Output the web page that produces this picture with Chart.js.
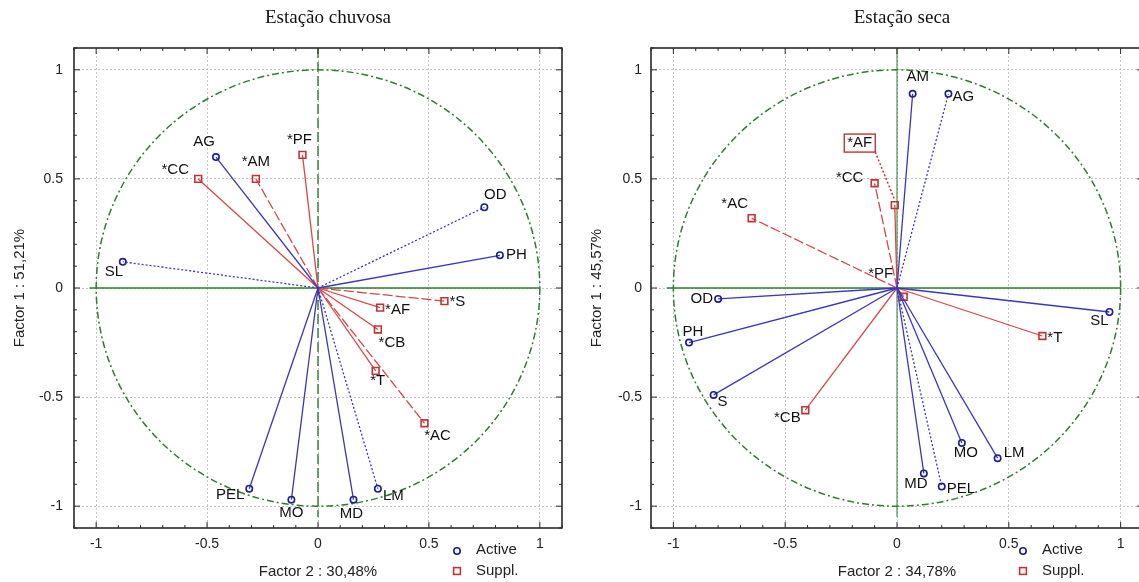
<!DOCTYPE html>
<html><head><meta charset="utf-8">
<script src="https://cdn.jsdelivr.net/npm/chart.js@4.4.1/dist/chart.umd.min.js"></script>
<style>
html,body{margin:0;padding:0;background:#fff;overflow:hidden;width:1139px;height:582px;position:relative;}
#c1{position:absolute;left:0;top:0;}
#c2{position:absolute;left:570px;top:0;}
</style></head><body>
<canvas id="c1" width="570" height="582"></canvas>
<canvas id="c2" width="600" height="582"></canvas>
<script>
// ---------- DATA : Estação chuvosa ----------
const rainActiveLabels = ['AG','SL','OD','PH','PEL','MO','MD','LM'];
const rainActiveF2 = [-0.46,-0.88,0.75,0.82,-0.31,-0.12,0.16,0.27];
const rainActiveF1 = [0.60,0.12,0.37,0.15,-0.92,-0.97,-0.97,-0.92];
const rainSupplLabels = ['*CC','*AM','*PF','*S','*AF','*CB','*T','*AC'];
const rainSupplF2 = [-0.54,-0.28,-0.07,0.57,0.28,0.27,0.26,0.48];
const rainSupplF1 = [0.50,0.50,0.61,-0.06,-0.09,-0.19,-0.38,-0.62];
// ---------- DATA : Estação seca ----------
const dryActiveLabels = ['AM','AG','OD','PH','S','SL','MO','LM','MD','PEL'];
const dryActiveF2 = [0.07,0.23,-0.80,-0.93,-0.82,0.95,0.29,0.45,0.12,0.20];
const dryActiveF1 = [0.89,0.89,-0.05,-0.25,-0.49,-0.11,-0.71,-0.78,-0.85,-0.91];
const drySupplLabels = ['*AF','*CC','*AC','*PF','*CB','*T'];
const drySupplF2 = [-0.01,-0.10,-0.65,0.03,-0.41,0.65];
const drySupplF1 = [0.38,0.48,0.32,-0.04,-0.56,-0.22];
// ---------- axis ticks ----------
const axisTicks = [-1,-0.5,0,0.5,1];
const tickLabels = ['-1','-0.5','0','0.5','1'];

// ---------- styles ----------
const DOT=[2,2], DASH=[10,3], SOLID=[];
const BLUE_LINE='#3838bc', BLUE_PT='#1c1c96', RED_LINE='#d64848', RED_PT='#c23434';
const GREEN='#2f7d2f';
const SANS='"Liberation Sans", Arial, sans-serif';
const SERIF='"Liberation Serif", "Times New Roman", serif';

const rainDash = {AG:SOLID,SL:DOT,OD:DOT,PH:SOLID,PEL:SOLID,MO:SOLID,MD:SOLID,LM:DOT,
  '*CC':SOLID,'*AM':DASH,'*PF':SOLID,'*S':DASH,'*AF':SOLID,'*CB':SOLID,'*T':SOLID,'*AC':DASH};
const dryDash = {AM:SOLID,AG:DOT,OD:SOLID,PH:SOLID,S:SOLID,SL:SOLID,MO:SOLID,LM:SOLID,MD:SOLID,PEL:DOT,
  '*AF':SOLID,'*CC':DASH,'*AC':DASH,'*PF':SOLID,'*CB':SOLID,'*T':SOLID};
// label offsets [dx, dy, align, boxed]
const rainLabelPos = {AG:[-12,-15,'center'],SL:[-9,10,'center'],OD:[11,-12,'center'],PH:[6,0,'left'],
  PEL:[-19,6,'center'],MO:[0,13,'center'],MD:[-2,14,'center'],LM:[5,7,'left'],
  '*CC':[-23,-9,'center'],'*AM':[0,-17,'center'],'*PF':[-3,-15,'center'],'*S':[5,1,'left'],
  '*AF':[5,2,'left'],'*CB':[14,13,'center'],'*T':[2,10,'center'],'*AC':[13,13,'center']};
const dryLabelPos = {AM:[5,-17,'center'],AG:[4,3,'left'],OD:[-5,0,'right'],PH:[4,-11,'center'],
  S:[9,7,'center'],SL:[-10,9,'center'],MO:[4,10,'center'],LM:[6,-5,'left'],MD:[-8,10,'center'],PEL:[5,2,'left'],
  '*AF':[-35,-62,'center',true],'*CC':[-25,-5,'center'],'*AC':[-17,-14,'center'],'*PF':[-23,-23,'center'],
  '*CB':[-18,8,'center'],'*T':[5,2,'left']};

function vec(label, f2, f1, active, dash){
  return {
    label, kind: active ? 'active' : 'suppl',
    data:[{x:0,y:0},{x:f2,y:f1}],
    showLine:true,
    borderColor: active ? BLUE_LINE : RED_LINE,
    borderWidth: 1.3,
    borderDash: dash || [],
    pointRadius:[0, active ? 3.2 : 4.8],
    pointStyle: active ? 'circle' : 'rect',
    pointBorderColor: active ? BLUE_PT : RED_PT,
    pointBackgroundColor:'rgba(0,0,0,0)',
    pointBorderWidth:1.6,
    pointHoverRadius:0
  };
}

function buildChart(id, spec){
  const datasets=[];
  spec.activeLabels.forEach((l,i)=>datasets.push(vec(l,spec.activeF2[i],spec.activeF1[i],true,spec.dash[l])));
  spec.supplLabels.forEach((l,i)=>datasets.push(vec(l,spec.supplF2[i],spec.supplF1[i],false,spec.dash[l])));

  const decor = {
    id:'decor_'+id,
    beforeDatasetsDraw(chart){
      const {ctx, scales:{x,y}} = chart;
      const cx=x.getPixelForValue(0), cy=y.getPixelForValue(0);
      const rx=x.getPixelForValue(1)-cx, ry=cy-y.getPixelForValue(1);
      ctx.save();
      // unit circle
      ctx.strokeStyle=GREEN; ctx.lineWidth=1.5; ctx.setLineDash([7,3,2,3]);
      ctx.beginPath(); ctx.ellipse(cx,cy,rx,ry,0,0,Math.PI*2); ctx.stroke();
      // zero lines
      ctx.setLineDash([]); ctx.lineWidth=1.4;
      ctx.beginPath(); ctx.moveTo(x.getPixelForValue(-1.03),cy); ctx.lineTo(x.getPixelForValue(1),cy); ctx.stroke();
      ctx.setLineDash(spec.vDash); ctx.lineWidth=spec.vDash.length?1.4:1;
      ctx.beginPath(); ctx.moveTo(cx,chart.chartArea.top); ctx.lineTo(cx,y.getPixelForValue(-1.05)); ctx.stroke();
      ctx.restore();
    },
    afterDatasetsDraw(chart){
      const {ctx} = chart;
      ctx.save();
      ctx.font='15px '+SANS; ctx.fillStyle='#111'; ctx.textBaseline='middle';
      chart.data.datasets.forEach((ds,i)=>{
        const el = chart.getDatasetMeta(i).data[1];
        const p = spec.labelPos[ds.label] || [6,0,'left'];
        ctx.textAlign=p[2];
        const tx=el.x+p[0], ty=el.y+p[1];
        ctx.fillText(ds.label, tx, ty);
        if(p[3]){
          const w=ctx.measureText(ds.label).width;
          const bx=tx-w/2-3, by=ty-9, bw=w+6, bh=18;
          ctx.strokeStyle=RED_PT; ctx.lineWidth=1.4; ctx.setLineDash([]);
          ctx.strokeRect(bx,by,bw,bh);
          ctx.setLineDash([2,2]); ctx.lineWidth=1.5;
          ctx.beginPath(); ctx.moveTo(bx+bw,by+bh); ctx.lineTo(el.x,el.y-5); ctx.stroke();
        }
      });
      ctx.restore();
    },
    afterDraw(chart){
      const {ctx, chartArea:a, scales:{x,y}} = chart;
      ctx.save();
      // frame
      ctx.strokeStyle='#2a2a2a'; ctx.lineWidth=1.6; ctx.setLineDash([]);
      ctx.strokeRect(a.left,a.top,a.right-a.left,a.bottom-a.top);
      // inward ticks
      ctx.lineWidth=1;
      for(let k=-11;k<=11;k++){
        const v=k/10, len=(k%5===0)?6:3;
        const px=x.getPixelForValue(v), py=y.getPixelForValue(v);
        ctx.beginPath();
        ctx.moveTo(px,a.top); ctx.lineTo(px,a.top+len);
        ctx.moveTo(px,a.bottom); ctx.lineTo(px,a.bottom-len);
        ctx.moveTo(a.left,py); ctx.lineTo(a.left+len,py);
        ctx.moveTo(a.right,py); ctx.lineTo(a.right-len,py);
        ctx.stroke();
      }
      // title
      ctx.fillStyle='#111'; ctx.textAlign='center'; ctx.textBaseline='middle';
      ctx.font='19px '+SERIF;
      ctx.fillText(spec.title, spec.titleX, 18);
      // axis titles
      ctx.font='15px '+SANS; ctx.fillStyle='#222';
      ctx.fillText(spec.xTitle, x.getPixelForValue(0), 572);
      ctx.save(); ctx.translate(spec.yTitleX, y.getPixelForValue(0)); ctx.rotate(-Math.PI/2);
      ctx.fillText(spec.yTitle, 0, 0); ctx.restore();
      // legend
      const lx=spec.legendX;
      ctx.lineWidth=1.6;
      ctx.strokeStyle=BLUE_PT; ctx.beginPath(); ctx.arc(lx,551,3.2,0,Math.PI*2); ctx.stroke();
      ctx.strokeStyle=RED_PT; ctx.strokeRect(lx-3.4,567.6,6.8,6.8);
      ctx.textAlign='left'; ctx.fillStyle='#222';
      ctx.fillText('Active', lx+19, 550);
      ctx.fillText('Suppl.', lx+19, 571);
      ctx.restore();
    }
  };

  const tickFont={family:SANS,size:14};
  return new Chart(document.getElementById(id),{
    type:'scatter',
    data:{datasets},
    options:{
      responsive:false, animation:false, devicePixelRatio:1,
      events:[],
      layout:{padding:{left:0,right:spec.padRight,top:48,bottom:0}},
      plugins:{legend:{display:false},tooltip:{enabled:false},title:{display:false}},
      scales:{
        x:{type:'linear',min:-1.1,max:1.1,
          afterBuildTicks:s=>{s.ticks=axisTicks.map(v=>({value:v}));},
          afterFit:s=>{s.height=54;},
          ticks:{callback:v=>tickLabels[axisTicks.indexOf(v)],font:tickFont,color:'#222',padding:8,maxRotation:0,autoSkip:false},
          grid:{color:'#c6c6c6',lineWidth:1,drawTicks:false},
          border:{display:false,dash:[2,2]}},
        y:{type:'linear',min:-1.1,max:1.1,
          afterBuildTicks:s=>{s.ticks=axisTicks.map(v=>({value:v}));},
          afterFit:s=>{s.width=spec.yWidth;},
          ticks:{callback:v=>tickLabels[axisTicks.indexOf(v)],font:tickFont,color:'#222',padding:spec.yPad,autoSkip:false},
          grid:{color:'#c6c6c6',lineWidth:1,drawTicks:false},
          border:{display:false,dash:[2,2]}}
      }
    },
    plugins:[decor]
  });
}

buildChart('c1',{
  activeLabels:rainActiveLabels, activeF2:rainActiveF2, activeF1:rainActiveF1,
  supplLabels:rainSupplLabels, supplF2:rainSupplF2, supplF1:rainSupplF1,
  dash:rainDash, labelPos:rainLabelPos, vDash:[10,4],
  title:'Estação chuvosa', titleX:328, xTitle:'Factor 2 : 30,48%', yTitle:'Factor 1 : 51,21%',
  yTitleX:20, legendX:457, padRight:8, yWidth:74, yPad:11
});
buildChart('c2',{
  activeLabels:dryActiveLabels, activeF2:dryActiveF2, activeF1:dryActiveF1,
  supplLabels:drySupplLabels, supplF2:drySupplF2, supplF1:drySupplF1,
  dash:dryDash, labelPos:dryLabelPos, vDash:[],
  title:'Estação seca', titleX:332, xTitle:'Factor 2 : 34,78%', yTitle:'Factor 1 : 45,57%',
  yTitleX:27, legendX:453, padRight:27, yWidth:81, yPad:9
});
</script>
</body></html>
